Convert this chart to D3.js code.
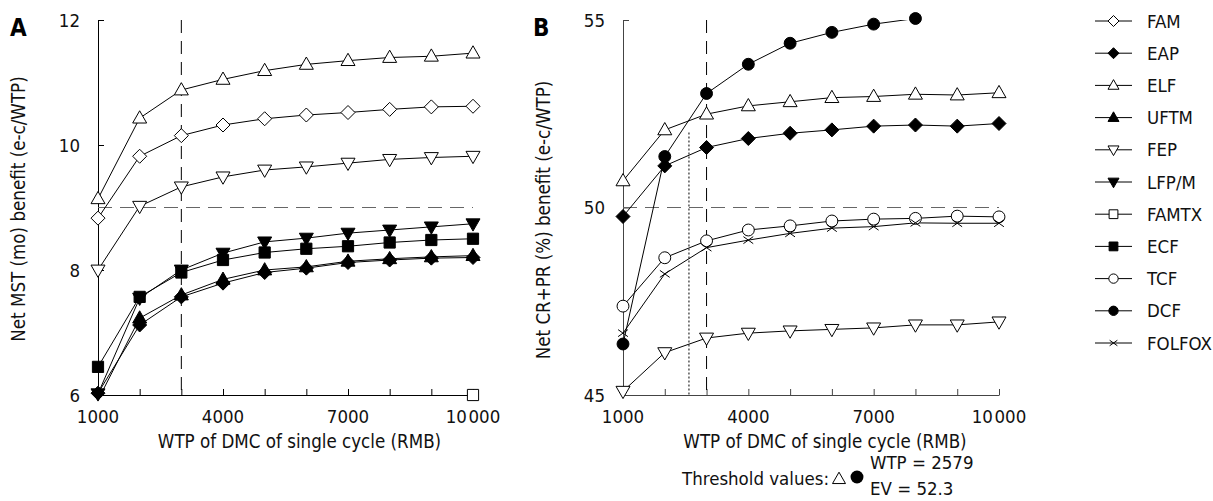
<!DOCTYPE html>
<html>
<head>
<meta charset="UTF-8">
<title>Net benefit vs WTP</title>
<style>
  body { margin: 0; background: #fff; }
  svg { font-family: "DejaVu Sans Condensed", "DejaVu Sans", "Liberation Sans", sans-serif; }
  .tick-label { font-size: 18.5px; fill: #111; }
  .axis-title { font-size: 18.6px; fill: #111; }
  .panel-tag { font-size: 24px; font-weight: bold; fill: #000; }
  .legend text { font-size: 18.5px; fill: #111; }
</style>
</head>
<body>
<script src="https://d3js.org/d3.v7.min.js"></script>
<script>
// x values: willingness to pay (RMB)
const wtp = [1000, 2000, 3000, 4000, 5000, 6000, 7000, 8000, 9000, 10000];
const xTicksLabelled = [1000, 4000, 7000, 10000];

// panel A: net MST (mo) benefit
const mstFAM  = [8.83, 9.82, 10.15, 10.32, 10.42, 10.48, 10.52, 10.57, 10.61, 10.62];
const mstEAP  = [6.03, 7.12, 7.57, 7.79, 7.96, 8.03, 8.12, 8.16, 8.19, 8.20];
const mstELF  = [9.14, 10.43, 10.88, 11.05, 11.19, 11.29, 11.35, 11.40, 11.42, 11.47];
const mstUFTM = [5.92, 7.23, 7.60, 7.85, 8.00, 8.05, 8.14, 8.18, 8.21, 8.23];
const mstFEP  = [8.00, 9.02, 9.33, 9.49, 9.60, 9.65, 9.71, 9.77, 9.80, 9.82];
const mstLFPM = [6.02, 7.55, 8.00, 8.27, 8.45, 8.51, 8.59, 8.64, 8.69, 8.74];
const mstFAMTX = [null, null, null, null, null, null, null, null, null, 6.0];
const mstECF  = [6.45, 7.57, 7.96, 8.16, 8.28, 8.34, 8.38, 8.44, 8.48, 8.50];

// panel B: net CR+PR (%) benefit
const crEAP    = [49.76, 51.11, 51.60, 51.84, 51.98, 52.07, 52.17, 52.20, 52.17, 52.24];
const crELF    = [50.71, 52.07, 52.49, 52.71, 52.82, 52.93, 52.96, 53.02, 53.00, 53.06];
const crFEP    = [45.10, 46.13, 46.52, 46.65, 46.71, 46.75, 46.79, 46.87, 46.87, 46.95];
const crTCF    = [47.37, 48.66, 49.11, 49.40, 49.51, 49.64, 49.69, 49.71, 49.77, 49.75];
const crDCF    = [46.36, 51.36, 53.04, 53.82, 54.38, 54.67, 54.89, 55.04, null, null];
const crFOLFOX = [46.65, 48.23, 48.93, 49.13, 49.31, 49.45, 49.49, 49.59, 49.58, 49.58];

// reference lines
const refA = { wtp: 3000, value: 9 };
const refB = { wtp: 3000, value: 50, thresholdWtp: 2579, thresholdEv: 52.0 };

const legendNames = ["FAM", "EAP", "ELF", "UFTM", "FEP", "LFP/M", "FAMTX", "ECF", "TCF", "DCF", "FOLFOX"];
const shapeOf = {
  "FAM": ["diamond", false], "EAP": ["diamond", true], "ELF": ["triUp", false],
  "UFTM": ["triUp", true], "FEP": ["triDown", false], "LFP/M": ["triDown", true],
  "FAMTX": ["square", false], "ECF": ["square", true], "TCF": ["circle", false],
  "DCF": ["circle", true], "FOLFOX": ["cross", false]
};

const seriesA = [
  ["FAM", mstFAM], ["ELF", mstELF], ["FEP", mstFEP], ["LFP/M", mstLFPM],
  ["ECF", mstECF], ["UFTM", mstUFTM], ["EAP", mstEAP], ["FAMTX", mstFAMTX]
];
const seriesB = [
  ["DCF", crDCF], ["ELF", crELF], ["EAP", crEAP], ["TCF", crTCF],
  ["FOLFOX", crFOLFOX], ["FEP", crFEP]
];

const width = 1213, height = 501;
const svg = d3.select("body").append("svg")
  .attr("width", width).attr("height", height);

// marker path for a shape, s = half size
function shapePath(kind, s) {
  switch (kind) {
    case "diamond": return `M0,${-s}L${s},0L0,${s}L${-s},0Z`;
    case "triUp": return `M0,${-s * 1.05}L${s},${s * 0.7}L${-s},${s * 0.7}Z`;
    case "triDown": return `M0,${s * 1.05}L${s},${-s * 0.7}L${-s},${-s * 0.7}Z`;
    case "square": return `M${-s * 0.8},${-s * 0.8}H${s * 0.8}V${s * 0.8}H${-s * 0.8}Z`;
    case "circle": return d3.arc()({ innerRadius: 0, outerRadius: s * 0.85, startAngle: 0, endAngle: 2 * Math.PI });
    case "cross": return `M${-s * 0.7},${-s * 0.5}L${s * 0.7},${s * 0.5}M${-s * 0.7},${s * 0.5}L${s * 0.7},${-s * 0.5}`;
  }
}

function drawMarker(g, name, x, y, s) {
  const [kind, filled] = shapeOf[name];
  g.append("path")
    .attr("d", shapePath(kind, s))
    .attr("transform", `translate(${x},${y})`)
    .attr("fill", kind === "cross" ? "none" : (filled ? "#000" : "#fff"))
    .attr("stroke", "#000")
    .attr("stroke-width", 1);
}

function panel(opts) {
  const x = d3.scaleLinear().domain([1000, 10000]).range(opts.xRange);
  const y = d3.scaleLinear().domain(opts.yDomain).range([395, 20]);
  const g = svg.append("g");

  const clipId = "clip" + opts.tag;
  svg.append("defs").append("clipPath").attr("id", clipId)
    .append("rect").attr("x", x.range()[0]).attr("y", y.range()[1])
    .attr("width", x.range()[1] - x.range()[0]).attr("height", y.range()[0] - y.range()[1]);

  // x axis
  const xAxis = g.append("g").attr("transform", `translate(0,${y.range()[0]})`)
    .call(d3.axisBottom(x).tickValues(wtp).tickSizeInner(-6).tickSizeOuter(0).tickFormat(""));
  xAxis.select(".domain").attr("stroke", opts.axisColor);
  xAxis.selectAll(".tick line").attr("stroke", opts.axisColor);
  g.selectAll(".xlab").data(xTicksLabelled).enter().append("text")
    .attr("class", "tick-label")
    .attr("x", d => x(d)).attr("y", 423)
    .attr("text-anchor", "middle")
    .text(d => d === 10000 ? "10\u200a000" : d);

  // y axis
  const yAxis = g.append("g").attr("transform", `translate(${x.range()[0]},0)`)
    .call(d3.axisLeft(y).tickValues(opts.yTicks).tickSizeInner(-6).tickSizeOuter(0).tickFormat(""));
  yAxis.select(".domain").attr("stroke", opts.axisColor);
  yAxis.selectAll(".tick line").attr("stroke", opts.axisColor);
  g.selectAll(".ylab").data(opts.yTicks).enter().append("text")
    .attr("class", "tick-label")
    .attr("x", x.range()[0] - 18).attr("y", d => y(d))
    .attr("dy", "0.36em")
    .attr("text-anchor", "end")
    .text(d => d);

  // titles
  g.append("text").attr("class", "axis-title")
    .attr("x", (x.range()[0] + x.range()[1]) / 2 + 14).attr("y", 448)
    .attr("text-anchor", "middle")
    .text("WTP of DMC of single cycle (RMB)");
  g.append("text").attr("class", "axis-title")
    .attr("transform", `translate(${opts.yTitleX},${opts.yTitleY}) rotate(-90)`)
    .attr("text-anchor", "middle")
    .text(opts.yTitle);
  g.append("text").attr("class", "panel-tag")
    .attr("x", opts.tagX).attr("y", 36).text(opts.tag);

  // reference lines
  g.append("line")
    .attr("x1", x.range()[0]).attr("x2", x.range()[1])
    .attr("y1", y(opts.ref.value)).attr("y2", y(opts.ref.value))
    .attr("stroke", "#666").attr("stroke-dasharray", "14,8");
  g.append("line")
    .attr("x1", x(opts.ref.wtp)).attr("x2", x(opts.ref.wtp))
    .attr("y1", y.range()[1]).attr("y2", y.range()[0])
    .attr("stroke", "#000").attr("stroke-dasharray", "13,8");
  if (opts.ref.thresholdWtp) {
    g.append("line")
      .attr("x1", x(opts.ref.thresholdWtp)).attr("x2", x(opts.ref.thresholdWtp))
      .attr("y1", y(opts.ref.thresholdEv)).attr("y2", y.range()[0])
      .attr("stroke", "#000").attr("stroke-dasharray", "2,2");
  }

  // series lines and markers
  const line = d3.line()
    .defined(d => d[1] != null)
    .x(d => x(d[0])).y(d => y(d[1]));
  opts.series.forEach(([name, vals]) => {
    const pts = wtp.map((w, i) => [w, vals[i]]);
    g.append("path")
      .attr("d", line(pts))
      .attr("fill", "none").attr("stroke", "#000").attr("stroke-width", 1)
      .attr("clip-path", `url(#${clipId})`);
  });
  opts.series.forEach(([name, vals]) => {
    const mg = g.append("g");
    wtp.forEach((w, i) => {
      if (vals[i] == null || vals[i] < opts.yDomain[0]) return;
      drawMarker(mg, name, x(w), y(vals[i]), 7);
    });
  });
}

panel({
  tag: "A", tagX: 10, xRange: [98, 473], yDomain: [6, 12], yTicks: [6, 8, 10, 12],
  axisColor: "#000", yTitle: "Net MST (mo) benefit (e-c/WTP)", yTitleX: 25, yTitleY: 209,
  ref: refA, series: seriesA
});
panel({
  tag: "B", tagX: 533, xRange: [623, 999], yDomain: [45, 55], yTicks: [45, 50, 55],
  axisColor: "#444", yTitle: "Net CR+PR (%) benefit (e-c/WTP)", yTitleX: 550, yTitleY: 220,
  ref: refB, series: seriesB
});

// legend
const legend = svg.append("g").attr("class", "legend");
legendNames.forEach((name, i) => {
  const ly = 21 + i * 32.2;
  legend.append("line")
    .attr("x1", 1095).attr("x2", 1132).attr("y1", ly).attr("y2", ly)
    .attr("stroke", "#000");
  drawMarker(legend, name, 1113.5, ly, 5.5);
  legend.append("text").attr("x", 1147).attr("y", ly).attr("dy", "0.36em").text(name);
});

// threshold note
const note = svg.append("g").attr("class", "legend");
note.append("text").attr("x", 682).attr("y", 485).text("Threshold values:");
note.append("path").attr("d", shapePath("triUp", 6.5)).attr("transform", "translate(839,479)")
  .attr("fill", "#fff").attr("stroke", "#000");
note.append("path").attr("d", shapePath("circle", 7.6)).attr("transform", "translate(857,477)")
  .attr("fill", "#000");
note.append("text").attr("x", 870).attr("y", 469).text("WTP = 2579");
note.append("text").attr("x", 870).attr("y", 495).text("EV = 52.3");
</script>
</body>
</html>
